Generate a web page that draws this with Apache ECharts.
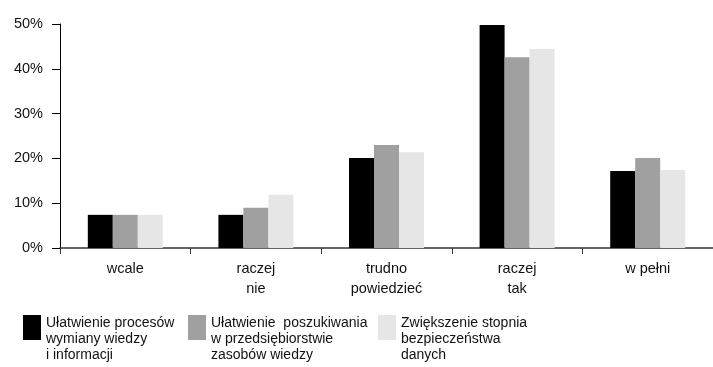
<!DOCTYPE html>
<html><head><meta charset="utf-8">
<script src="https://cdn.jsdelivr.net/npm/echarts@6/dist/echarts.min.js"></script>
<style>html,body{margin:0;padding:0;background:#fff}#c{width:713px;height:367px}</style>
</head><body><div id="c"></div>
<script>
const categories = ['wcale', 'raczej\nnie', 'trudno\npowiedzieć', 'raczej\ntak', 'w pełni'];
const seriesNames = ['Ułatwienie procesów\nwymiany wiedzy\ni informacji', 'Ułatwienie  poszukiwania\nw przedsiębiorstwie\nzasobów wiedzy', 'Zwiększenie stopnia\nbezpieczeństwa\ndanych'];
const seriesA = [7.4, 7.4, 20.1, 49.8, 17.2];
const seriesB = [7.4, 9.0, 23.0, 42.6, 20.1];
const seriesC = [7.4, 11.9, 21.4, 44.4, 17.4];
const colors = ['#000000', '#a0a0a0', '#e6e6e6'];
const yTicks = [0, 10, 20, 30, 40, 50];

const font = '"Liberation Sans", Arial, sans-serif';
const chart = echarts.init(document.getElementById('c'));
const legendLefts = [23, 188, 378];
const values = [seriesA, seriesB, seriesC];
chart.setOption({
  animation: false,
  grid: { left: 60, top: 24, width: 660, height: 224 },
  xAxis: {
    type: 'category', data: categories,
    axisLine: { lineStyle: { color: '#333', width: 1.5 } },
    axisTick: { show: true, length: 6, lineStyle: { color: '#333' } },
    axisLabel: { color: '#111', fontSize: 14.5, fontFamily: font, lineHeight: 20, margin: 11 }
  },
  yAxis: {
    type: 'value', min: yTicks[0], max: yTicks[yTicks.length - 1], interval: 10,
    splitLine: { show: false },
    axisLine: { show: true, lineStyle: { color: '#000', width: 1 } },
    axisTick: { show: true, length: 8, lineStyle: { color: '#000' } },
    axisLabel: { color: '#111', fontSize: 14.5, fontFamily: font, margin: 17, formatter: '{value}%' }
  },
  legend: seriesNames.map((n, i) => ({
    data: [n], left: legendLefts[i], top: 303, padding: 0, icon: 'rect', itemWidth: 18, itemHeight: 25,
    itemGap: 0, selectedMode: false,
    formatter: name => '{g|}\n' + name.split('\n').map(l => '{t|' + l + '}').join('\n'),
    textStyle: {
      color: '#111', fontSize: 14, fontFamily: font,
      rich: { g: { lineHeight: 23, fontSize: 1 }, t: { lineHeight: 16, fontSize: 14, fontFamily: font, color: '#111' } }
    }
  })),
  series: seriesNames.map((n, i) => ({
    name: n, type: 'bar', data: values[i], barWidth: 25, barGap: '0%',
    itemStyle: { color: colors[i] }
  }))
});
</script></body></html>
